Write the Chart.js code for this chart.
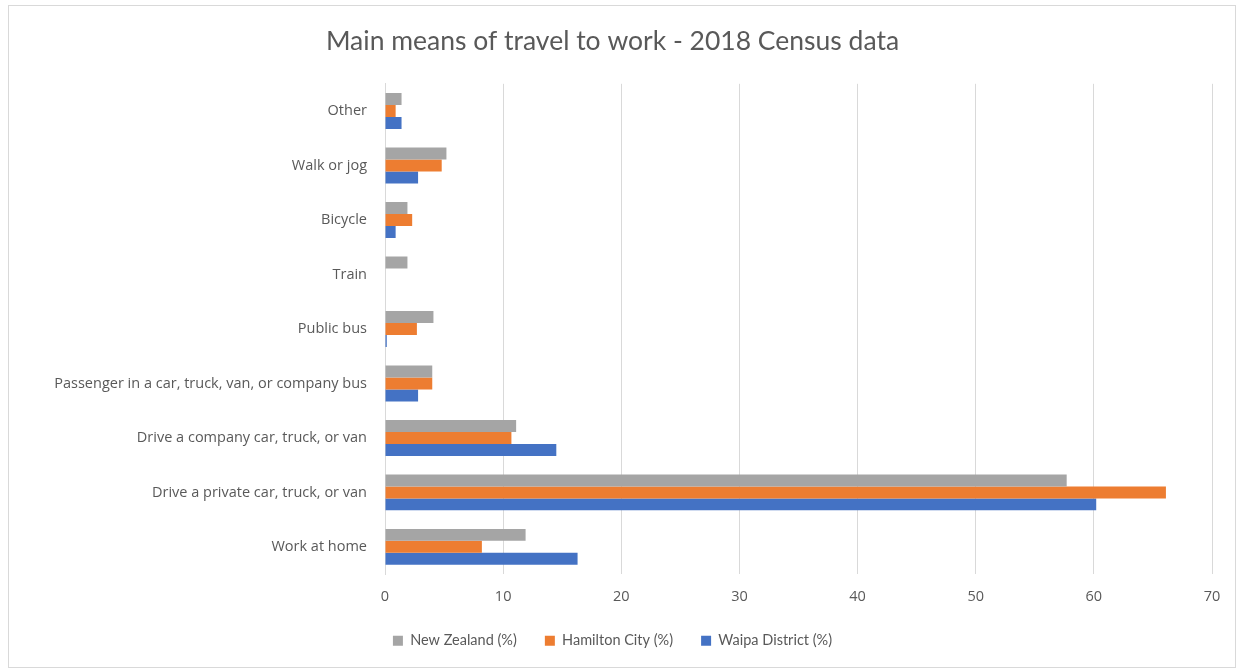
<!DOCTYPE html>
<html>
<head>
<meta charset="utf-8">
<script src="https://cdn.jsdelivr.net/npm/chart.js@4.4.1/dist/chart.umd.min.js"></script>
<style>
  body { margin: 0; background: #fff; }
  #box { position: absolute; left: 8px; top: 5px; width: 1226px; height: 661px; border: 1px solid #d9d9d9; }
  canvas { display: block; }
</style>
</head>
<body>
<div id="box"><canvas id="travel" width="1226" height="661"></canvas></div>
<script>
// categories top to bottom as shown
var categories = ["Other", "Walk or jog", "Bicycle", "Train", "Public bus",
  "Passenger in a car, truck, van, or company bus", "Drive a company car, truck, or van",
  "Drive a private car, truck, or van", "Work at home"];
var newZealand = [1.4, 5.2, 1.9, 1.9, 4.1, 4.0, 11.1, 57.7, 11.9];
var hamilton   = [0.9, 4.8, 2.3, 0, 2.7, 4.0, 10.7, 66.1, 8.2];
var waipa      = [1.4, 2.8, 0.9, 0, 0.15, 2.8, 14.5, 60.2, 16.3];
var xTicks = [0, 10, 20, 30, 40, 50, 60, 70];

var txt = '#595959';

// wider gaps between legend items without a taller legend
var legendSpacing = {
  id: 'legendSpacing',
  beforeLayout: function (chart) {
    var lg = chart.legend;
    if (lg && !lg._wrapped) {
      var fit = lg.fit;
      lg.fit = function () { fit.call(this); this.height -= 14; };
      lg._wrapped = true;
    }
  },
  afterLayout: function (chart) { chart.legend.top -= 14; }
};

var ctx = document.getElementById('travel').getContext('2d');
var chart = new Chart(ctx, {
  type: 'bar',
  data: {
    labels: categories,
    datasets: [
      { label: 'New Zealand (%)', data: newZealand, backgroundColor: '#a5a5a5' },
      { label: 'Hamilton City (%)', data: hamilton, backgroundColor: '#ed7d31' },
      { label: 'Waipa District (%)', data: waipa, backgroundColor: '#4472c4' }
    ]
  },
  plugins: [legendSpacing],
  options: {
    indexAxis: 'y',
    responsive: false,
    animation: false,
    categoryPercentage: 0.66,
    barPercentage: 1.0,
    layout: { padding: { left: 4, right: 23, top: 20, bottom: 9 } },
    plugins: {
      title: {
        display: true,
        text: 'Main means of travel to work - 2018 Census data',
        color: txt,
        font: { family: 'Lato', size: 26.5, weight: 'normal' },
        padding: { top: 0, bottom: 26 }
      },
      legend: {
        position: 'bottom',
        labels: {
          color: txt,
          font: { family: 'Lato', size: 14.5 },
          boxWidth: 10, boxHeight: 10,
          padding: 28
        }
      },
      tooltip: { enabled: false }
    },
    scales: {
      x: {
        min: 0, max: 70,
        afterBuildTicks: function (axis) {
          axis.ticks = xTicks.map(function (v) { return { value: v }; });
        },
        grid: { color: '#d9d9d9', drawTicks: false },
        border: { display: false },
        ticks: { color: txt, font: { family: 'Open Sans', size: 14.5 }, padding: 14 }
      },
      y: {
        afterFit: function (axis) { axis.width = 372; },
        grid: { display: false, drawTicks: false },
        border: { color: '#d9d9d9' },
        ticks: { color: txt, font: { family: 'Open Sans', size: 14.5 }, padding: 18 }
      }
    }
  }
});
</script>
</body>
</html>
